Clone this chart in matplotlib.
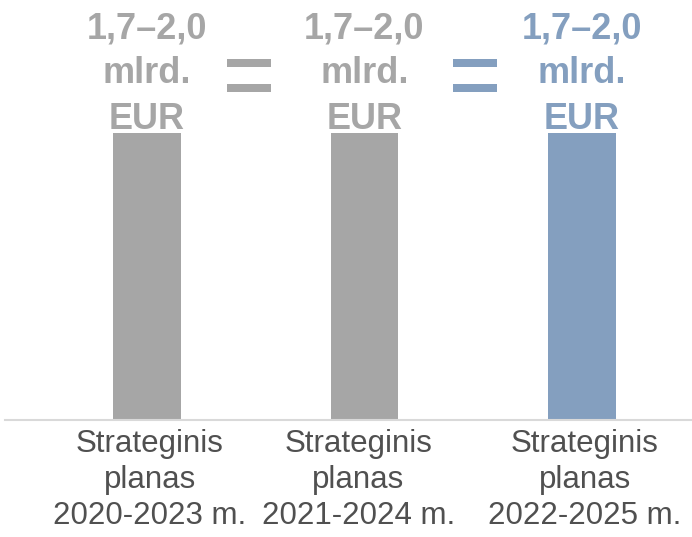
import numpy as np
import matplotlib
matplotlib.use('Agg')
import matplotlib.pyplot as plt
from matplotlib.patches import Rectangle
import matplotlib.transforms as mtrans

# ---- data ----
categories = ['Strateginis\nplanas\n2020-2023 m.',
              'Strateginis\nplanas\n2021-2024 m.',
              'Strateginis\nplanas\n2022-2025 m.']
values = [1.85, 1.85, 1.85]
value_labels = ['1,7–2,0\nmlrd.\nEUR'] * 3
bar_colors = ['#A6A6A6', '#A6A6A6', '#849FBF']
sign_colors = ['#A6A6A6', '#849FBF']

plt.rcParams['font.family'] = ['Liberation Sans', 'DejaVu Sans']

W, H = 692, 537
fig = plt.figure(figsize=(W / 100, H / 100), dpi=100)
ax = fig.add_axes([5 / W, (H - 420) / H, 687 / W, 420 / H])

x = np.arange(len(categories))
ax.bar(x, values, width=0.3125, color=bar_colors, zorder=2)
ax.set_xlim(-142 / 217.5, len(categories) - 1 + 110 / 217.5)
ax.set_ylim(0, max(values) * 420 / 287)

for s in ['top', 'right', 'left']:
    ax.spines[s].set_visible(False)
ax.spines['bottom'].set_color('#D9D9D9')
ax.spines['bottom'].set_linewidth(1.5)
ax.set_xticks([])
ax.set_yticks([])
ax.patch.set_alpha(0)

# value labels above bars (line by line, pixel offsets above bar top)
val_offsets = [94, 50, 4]
for xi, v, lab, c in zip(x, values, value_labels, bar_colors):
    for line, off in zip(lab.split('\n'), val_offsets):
        ax.annotate(line, (xi, v), xytext=(0, off), textcoords='offset pixels',
                    ha='center', va='baseline', fontsize=26, fontweight='bold',
                    color=c, zorder=3, annotation_clip=False)

# category labels below axis
cat_dx = [3, -6, 3]
cat_offsets = [-32, -68, -104]
for i, (xi, lab) in enumerate(zip(x, categories)):
    for line, off in zip(lab.split('\n'), cat_offsets):
        ax.annotate(line, (xi, 0), xycoords=('data', 'axes fraction'),
                    xytext=(cat_dx[i], off), textcoords='offset pixels',
                    ha='center', va='baseline', fontsize=22.5, color='#505050',
                    annotation_clip=False)

# equal signs between bars
blend = mtrans.blended_transform_factory(ax.transData, fig.transFigure)
sign_x = [(x[0] + x[1]) / 2 - 0.03, (x[1] + x[2]) / 2 + 0.01]
sign_w = 44 / 217.5
for sx, sc in zip(sign_x, sign_colors):
    for ytop in (59, 84):
        ax.add_patch(Rectangle((sx - sign_w / 2, 1 - (ytop + 8) / H), sign_w, 8 / H,
                               transform=blend, color=sc, clip_on=False, lw=0))

fig.savefig('out.png', dpi=100)
